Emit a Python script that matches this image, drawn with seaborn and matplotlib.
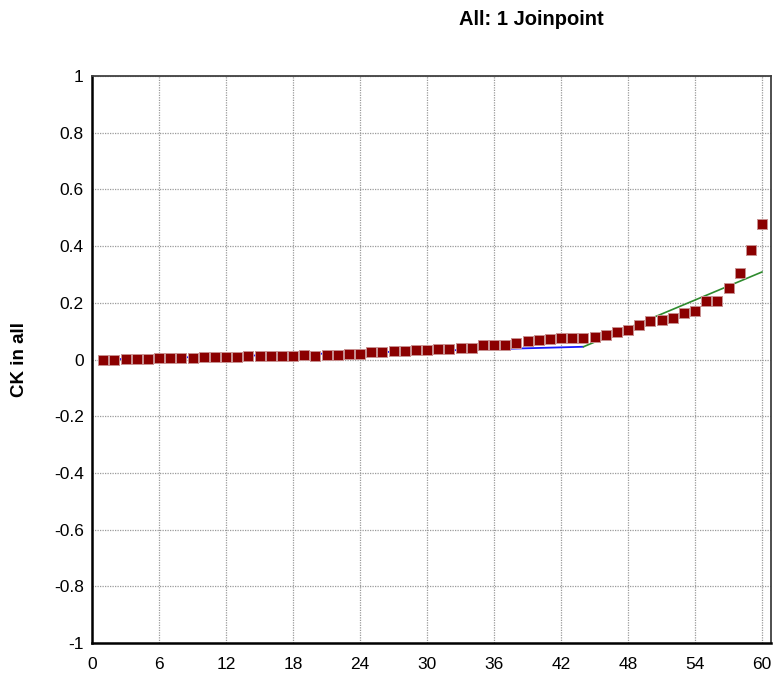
import pandas as pd
import seaborn as sns
import matplotlib.pyplot as plt

# observed values (x = 1..60)
xs = list(range(1, 61))
observed = [0.000, 0.000, 0.002, 0.002, 0.002, 0.005, 0.005, 0.006, 0.006, 0.008,
            0.008, 0.010, 0.010, 0.011, 0.012, 0.012, 0.013, 0.014, 0.015, 0.014,
            0.015, 0.016, 0.019, 0.020, 0.025, 0.026, 0.029, 0.030, 0.034, 0.034,
            0.037, 0.037, 0.039, 0.039, 0.051, 0.051, 0.051, 0.058, 0.065, 0.068,
            0.073, 0.075, 0.075, 0.077, 0.080, 0.088, 0.098, 0.104, 0.122, 0.135,
            0.140, 0.146, 0.165, 0.171, 0.205, 0.207, 0.253, 0.304, 0.385, 0.477]

# fitted segments (joinpoint at 44)
seg1_x = [1, 44]
seg1_y = [0.000, 0.045]
seg2_x = [44, 60]
seg2_y = [0.045, 0.309]

df = pd.DataFrame({"x": xs, "y": observed})

sns.set_style("white")
plt.rcParams["font.family"] = ["Liberation Sans", "DejaVu Sans"]
plt.rcParams["text.color"] = "black"
plt.rcParams["xtick.color"] = "black"
plt.rcParams["ytick.color"] = "black"

fig = plt.figure(figsize=(7.74, 6.88), dpi=100)
ax = fig.add_axes([0.1189, 0.0654, 0.8773, 0.8241])

ax.grid(True, color="#9a9a9a", linestyle=(0, (1, 1)), linewidth=0.9)
ax.set_axisbelow(True)

sns.lineplot(x=seg1_x, y=seg1_y, color="#1a1aff", linewidth=1.3, ax=ax, zorder=2)
sns.lineplot(x=seg2_x, y=seg2_y, color="#2e8b2e", linewidth=1.2, ax=ax, zorder=2)
sns.scatterplot(data=df, x="x", y="y", marker="s", s=62, color="#8b0000",
                edgecolor="#c89090", linewidth=0.7, ax=ax, zorder=3)

ax.set_xlim(0, 60.8)
ax.set_ylim(-1, 1)
ax.set_xticks(range(0, 61, 6))
ax.set_yticks([i / 10 for i in range(-10, 11, 2)])
ax.set_yticklabels(["-1", "-0.8", "-0.6", "-0.4", "-0.2", "0", "0.2", "0.4", "0.6", "0.8", "1"])
ax.tick_params(axis="both", labelsize=12.5, length=0, labelcolor="black")
ax.tick_params(axis="y", pad=6)
ax.tick_params(axis="x", pad=10)
ax.set_xlabel("")
ax.set_ylabel("")

for side in ["left", "bottom"]:
    ax.spines[side].set_color("black")
    ax.spines[side].set_linewidth(1.8)
for side in ["top", "right"]:
    ax.spines[side].set_color("#404040")
    ax.spines[side].set_linewidth(1.3)

fig.text(0.686, 0.971, "All: 1 Joinpoint", ha="center", va="center",
         fontsize=14.5, fontweight="bold", color="black")
fig.text(0.025, 0.478, "CK in all", ha="center", va="center", rotation=90,
         fontsize=13.5, fontweight="bold", color="black")

fig.savefig("out.png", dpi=100)
